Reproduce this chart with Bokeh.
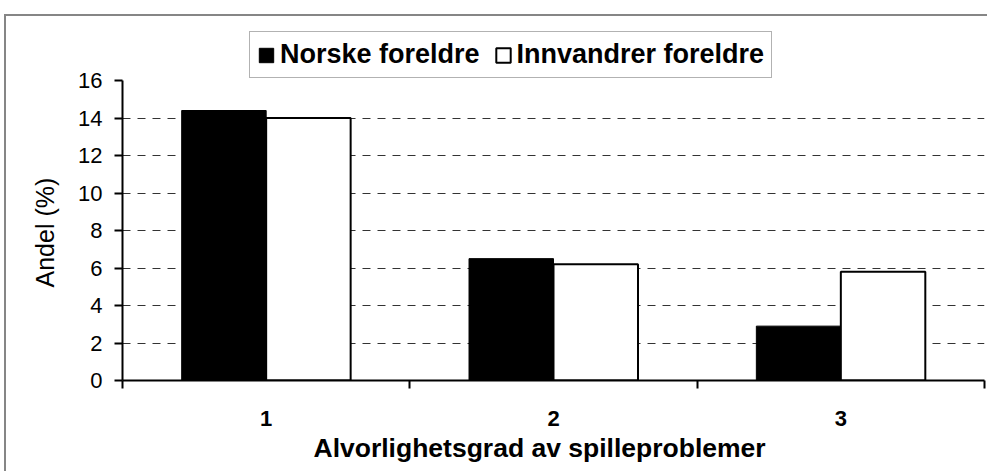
from bokeh.plotting import figure
from bokeh.models import ColumnDataSource, FixedTicker, Range1d, Title
from bokeh.transform import dodge
from bokeh.embed import file_html
from bokeh.resources import INLINE

# ---- data ----
categories = ["1", "2", "3"]
norske = [14.4, 6.5, 2.9]
innvandrer = [14.0, 6.2, 5.8]
y_ticks = [0, 2, 4, 6, 8, 10, 12, 14, 16]
grid_ticks = [2, 4, 6, 8, 10, 12, 14]
series_names = ["Norske foreldre", "Innvandrer foreldre"]
x_title = "Alvorlighetsgrad av spilleproblemer"
y_title = "Andel (%)"

FONT = "Liberation Sans"
Y_AXIS_MAX = 16
Y_VIEW_MAX = 18.667  # extra room above the axis for the legend

xs = [i + 0.5 for i in range(len(categories))]
src = ColumnDataSource(dict(x=xs, cat=categories, norske=norske, innvandrer=innvandrer))

p = figure(width=983, height=457, output_backend="svg", toolbar_location=None,
           x_range=Range1d(0, len(categories)), y_range=Range1d(0, Y_VIEW_MAX),
           min_border_left=116, min_border_top=14, min_border_bottom=93, min_border_right=5)
p.styles = {"margin-left": "4px", "margin-top": "14px",
            "border-top": "2px solid #868686", "border-left": "2px solid #868686"}
p.outline_line_color = None
p.background_fill_color = "white"
p.border_fill_color = "white"

bw = 0.294
p.vbar(x=dodge("x", -bw / 2, range=p.x_range), top="norske", width=bw, source=src,
       fill_color="black", line_color="black", line_width=1, legend_label=series_names[0])
p.vbar(x=dodge("x", bw / 2, range=p.x_range), top="innvandrer", width=bw, source=src,
       fill_color="white", line_color="black", line_width=2, legend_label=series_names[1])

# axes
xa = p.xaxis[0]
xa.ticker = FixedTicker(ticks=xs, minor_ticks=list(range(len(categories) + 1)))
xa.major_label_overrides = {x: c for x, c in zip(xs, categories)}
xa.major_tick_out = 0
xa.major_tick_in = 0
xa.minor_tick_out = 8
xa.minor_tick_in = 0
xa.minor_tick_line_color = "black"
xa.minor_tick_line_width = 2
xa.axis_line_width = 2
xa.axis_line_color = "black"
xa.major_label_text_font = FONT
xa.major_label_text_font_style = "bold"
xa.major_label_text_font_size = "22px"
xa.major_label_text_color = "black"
xa.major_label_standoff = 22

# x-axis title (slightly left of the plot centre, as in the original)
xt = Title(text=x_title, align="left", offset=191, vertical_align="top", standoff=9,
           text_font=FONT, text_font_size="26.5px", text_font_style="bold",
           text_color="black")
p.add_layout(xt, "below")

ya = p.yaxis[0]
ya.ticker = FixedTicker(ticks=y_ticks)
ya.bounds = (0, Y_AXIS_MAX)
ya.minor_tick_line_color = None
ya.major_tick_out = 8
ya.major_tick_in = 0
ya.major_tick_line_width = 2
ya.major_tick_line_color = "black"
ya.axis_line_width = 2
ya.axis_line_color = "black"
ya.major_label_text_font = FONT
ya.major_label_text_font_size = "22px"
ya.major_label_text_color = "black"
ya.major_label_standoff = 12

# y-axis title, placed along the axis' 0..16 span rather than the full frame
yt = Title(text=y_title, align="left", offset=93, vertical_align="bottom", standoff=34,
           text_font=FONT, text_font_size="25px", text_font_style="normal",
           text_color="black")
p.add_layout(yt, "left")

p.xgrid.grid_line_color = None
p.ygrid.ticker = FixedTicker(ticks=grid_ticks)
p.ygrid.grid_line_color = "#333333"
p.ygrid.grid_line_dash = "8 7"
p.ygrid.grid_line_width = 1

lg = p.legend[0]
lg.orientation = "horizontal"
lg.location = (127, 302)
lg.label_text_font = FONT
lg.label_text_font_style = "bold"
lg.label_text_font_size = "27px"
lg.label_text_color = "black"
lg.glyph_width = 18
lg.glyph_height = 18
lg.label_standoff = 5
lg.spacing = 14
lg.padding = 7
lg.margin = 0
lg.border_line_color = "#666666"
lg.border_line_width = 1
lg.background_fill_alpha = 1

open("out.html", "w").write(file_html(p, INLINE))
